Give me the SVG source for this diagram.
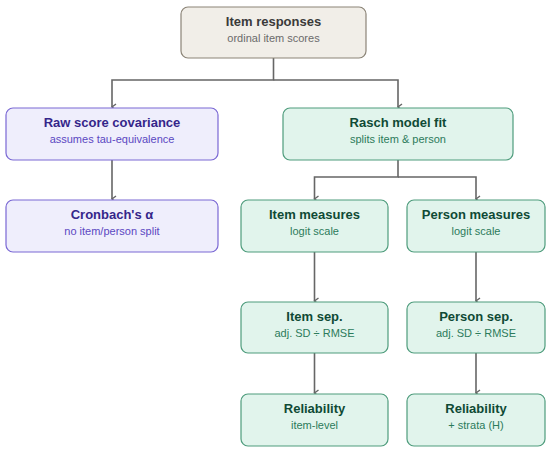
<svg xmlns="http://www.w3.org/2000/svg" width="550" height="453" viewBox="0 0 550 453">
<defs>
<style>
.t{font-family:"Liberation Sans",Arial,sans-serif;font-size:13px;font-weight:bold;text-anchor:middle}
.s{font-family:"Liberation Sans",Arial,sans-serif;font-size:11px;text-anchor:middle}
.n rect{stroke-width:1.2}
.g rect{fill:#e1f4ec;stroke:#4e9c7c}
.g .t{fill:#0f4a35}
.g .s{fill:#2c7b5b}
.p rect{fill:#efeefc;stroke:#7a68d4}
.p .t{fill:#35268a}
.p .s{fill:#5b48c2}
.r rect{fill:#f1eee8;stroke:#8b8477}
.r .t{fill:#3a3a3a}
.r .s{fill:#6b6b6b}
.c path{fill:none;stroke:#666;stroke-width:1.6}
</style>
<marker id="a" markerWidth="10" markerHeight="10" refX="5" refY="8" orient="auto" markerUnits="userSpaceOnUse" viewBox="0 0 10 10">
<path d="M2,4 L5,8 L8,4" fill="none" stroke="#666" stroke-width="1.4"/>
</marker>
</defs>
<rect width="550" height="453" fill="#fff"/>
<g class="c">
<path d="M273.5,58 V80 H112 V107" marker-end="url(#a)"/>
<path d="M273.5,80 H398 V107" marker-end="url(#a)"/>
<path d="M112,160 V199" marker-end="url(#a)"/>
<path d="M398,160 V177 H314.5 V199" marker-end="url(#a)"/>
<path d="M398,177 H476 V199" marker-end="url(#a)"/>
<path d="M314.5,252 V301" marker-end="url(#a)"/>
<path d="M476,252 V301" marker-end="url(#a)"/>
<path d="M314.5,353 V393" marker-end="url(#a)"/>
<path d="M476,353 V393" marker-end="url(#a)"/>
</g>
<g id="item-responses" class="n r">
<rect x="181" y="7" width="185" height="51" rx="7"/>
<text class="t" x="273.5" y="25.5">Item responses</text>
<text class="s" x="273.5" y="42">ordinal item scores</text>
</g>
<g id="raw-score" class="n p">
<rect x="6" y="108" width="212" height="52" rx="7"/>
<text class="t" x="112" y="126.5">Raw score covariance</text>
<text class="s" x="112" y="143">assumes tau-equivalence</text>
</g>
<g id="rasch" class="n g">
<rect x="283" y="108" width="230" height="52" rx="7"/>
<text class="t" x="398" y="126.5">Rasch model fit</text>
<text class="s" x="398" y="143">splits item &amp; person</text>
</g>
<g id="cronbach" class="n p">
<rect x="6" y="200" width="212" height="52" rx="7"/>
<text class="t" x="112" y="218.5">Cronbach's α</text>
<text class="s" x="112" y="235">no item/person split</text>
</g>
<g id="item-measures" class="n g">
<rect x="241" y="200" width="147" height="52" rx="7"/>
<text class="t" x="314.5" y="218.5">Item measures</text>
<text class="s" x="314.5" y="235">logit scale</text>
</g>
<g id="person-measures" class="n g">
<rect x="407" y="200" width="138" height="52" rx="7"/>
<text class="t" x="476" y="218.5">Person measures</text>
<text class="s" x="476" y="235">logit scale</text>
</g>
<g id="item-sep" class="n g">
<rect x="241" y="302" width="147" height="51" rx="7"/>
<text class="t" x="314.5" y="320.5">Item sep.</text>
<text class="s" x="314.5" y="337">adj. SD ÷ RMSE</text>
</g>
<g id="person-sep" class="n g">
<rect x="407" y="302" width="138" height="51" rx="7"/>
<text class="t" x="476" y="320.5">Person sep.</text>
<text class="s" x="476" y="337">adj. SD ÷ RMSE</text>
</g>
<g id="item-reliability" class="n g">
<rect x="241" y="394" width="147" height="52" rx="7"/>
<text class="t" x="314.5" y="412.5">Reliability</text>
<text class="s" x="314.5" y="429">item-level</text>
</g>
<g id="person-reliability" class="n g">
<rect x="407" y="394" width="138" height="52" rx="7"/>
<text class="t" x="476" y="412.5">Reliability</text>
<text class="s" x="476" y="429">+ strata (H)</text>
</g>
</svg>
